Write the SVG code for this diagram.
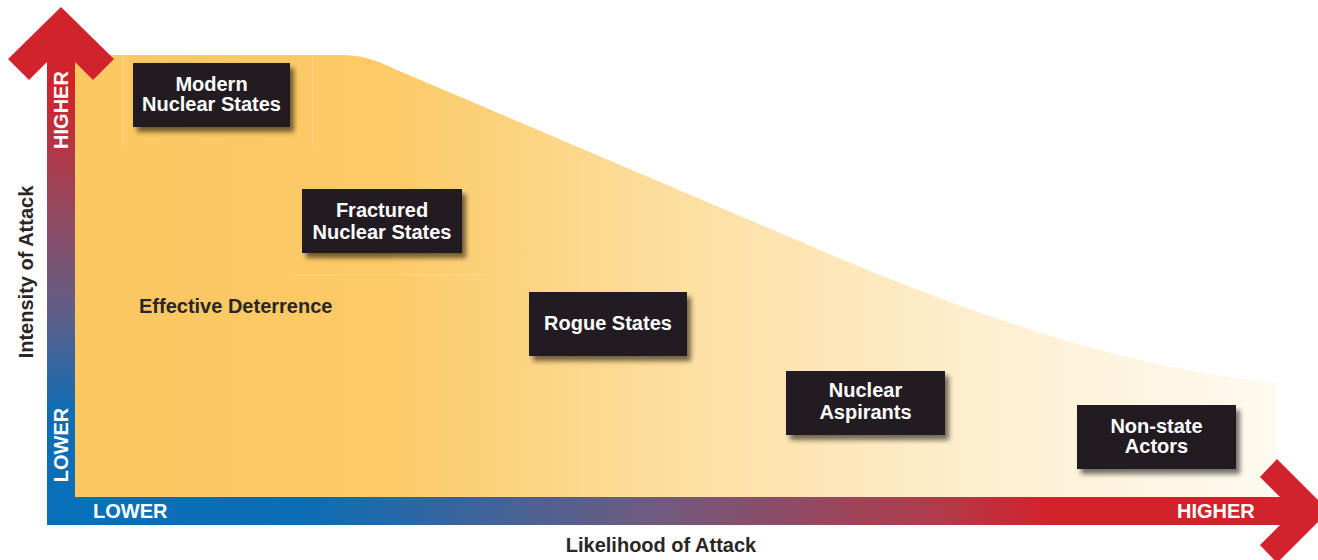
<svg xmlns="http://www.w3.org/2000/svg" width="1318" height="560" viewBox="0 0 1318 560">
  <defs>
    <style>
      .box { fill: #231f20; filter: url(#shadow); }
      .bt { font-family: "Liberation Sans", Arial, sans-serif; font-weight: bold; font-size: 20px; fill: #ffffff; text-anchor: middle; }
      .ax { font-family: "Liberation Sans", Arial, sans-serif; font-weight: bold; font-size: 20px; fill: #ffffff; }
      .title { font-family: "Liberation Sans", Arial, sans-serif; font-weight: bold; font-size: 20px; fill: #2a2627; }
      .faint { stroke: #ffffff; stroke-opacity: 0.25; stroke-width: 1; fill: none; }
    </style>
    <linearGradient id="areaGrad" gradientUnits="userSpaceOnUse" x1="75" y1="0" x2="1277" y2="0">
      <stop offset="0" stop-color="#fbc862"/>
      <stop offset="0.26" stop-color="#fcca66"/>
      <stop offset="0.52" stop-color="#fde0a4"/>
      <stop offset="0.78" stop-color="#fdf0d4"/>
      <stop offset="1" stop-color="#fefaf0"/>
    </linearGradient>
    <linearGradient id="vGrad" gradientUnits="userSpaceOnUse" x1="0" y1="7" x2="0" y2="525">
      <stop offset="0" stop-color="#d2222b"/>
      <stop offset="0.16" stop-color="#cf242d"/>
      <stop offset="0.42" stop-color="#8e4d66"/>
      <stop offset="0.6" stop-color="#5d5f8c"/>
      <stop offset="0.78" stop-color="#0f6db4"/>
      <stop offset="1" stop-color="#0870ba"/>
    </linearGradient>
    <linearGradient id="hGrad" gradientUnits="userSpaceOnUse" x1="47" y1="0" x2="1330" y2="0">
      <stop offset="0" stop-color="#0870ba"/>
      <stop offset="0.2" stop-color="#0b6db5"/>
      <stop offset="0.47" stop-color="#6f5b80"/>
      <stop offset="0.7" stop-color="#b23a48"/>
      <stop offset="0.78" stop-color="#d2222b"/>
      <stop offset="1" stop-color="#d2222b"/>
    </linearGradient>
    <filter id="shadow" x="-10%" y="-15%" width="125%" height="145%">
      <feDropShadow dx="4" dy="5" stdDeviation="2.5" flood-color="#000000" flood-opacity="0.55"/>
    </filter>
  </defs>

  <g id="area">
    <path d="M75,55 L340,55 C365,55 380,62 397,70 L820,250 C1000,327 1150,372 1277,382 L1277,497 L75,497 Z" fill="url(#areaGrad)"/>
    <line class="faint" x1="123" y1="55" x2="123" y2="148"/>
    <line class="faint" x1="313" y1="55" x2="313" y2="148"/>
    <line class="faint" x1="292" y1="275" x2="482" y2="275"/>
  </g>

  <g id="axes">
    <path id="y-axis" d="M47,525 V62 L29,80 L8,59 L61,7 L114,59 L93,80 L75,62 V525 Z" fill="url(#vGrad)"/>
    <path id="x-axis" d="M47,497 H1280 L1260,477 L1277,459 L1329,511 L1277,563 L1260,545 L1280,525 H47 Z" fill="url(#hGrad)"/>
    <text class="ax" text-anchor="middle" transform="translate(68,110) rotate(-90)">HIGHER</text>
    <text class="ax" text-anchor="middle" transform="translate(68,445) rotate(-90)">LOWER</text>
    <text class="ax" x="93" y="518">LOWER</text>
    <text class="ax" x="1177" y="518">HIGHER</text>
  </g>

  <text class="title" text-anchor="middle" x="661" y="552">Likelihood of Attack</text>
  <text class="title" text-anchor="middle" transform="translate(33,272) rotate(-90)">Intensity of Attack</text>
  <text class="title" x="139" y="313">Effective Deterrence</text>

  <g id="modern-nuclear-states">
    <rect class="box" x="133" y="63" width="157" height="64"/>
    <text class="bt" x="211.5" y="91">Modern</text>
    <text class="bt" x="211.5" y="111">Nuclear States</text>
  </g>
  <g id="fractured-nuclear-states">
    <rect class="box" x="302" y="189" width="160" height="64"/>
    <text class="bt" x="382" y="217">Fractured</text>
    <text class="bt" x="382" y="239">Nuclear States</text>
  </g>
  <g id="rogue-states">
    <rect class="box" x="529" y="292" width="158" height="64"/>
    <text class="bt" x="608" y="330">Rogue States</text>
  </g>
  <g id="nuclear-aspirants">
    <rect class="box" x="786" y="371" width="159" height="64"/>
    <text class="bt" x="865.5" y="397">Nuclear</text>
    <text class="bt" x="865.5" y="419">Aspirants</text>
  </g>
  <g id="non-state-actors">
    <rect class="box" x="1077" y="405" width="159" height="64"/>
    <text class="bt" x="1156.5" y="433">Non-state</text>
    <text class="bt" x="1156.5" y="453">Actors</text>
  </g>
</svg>
